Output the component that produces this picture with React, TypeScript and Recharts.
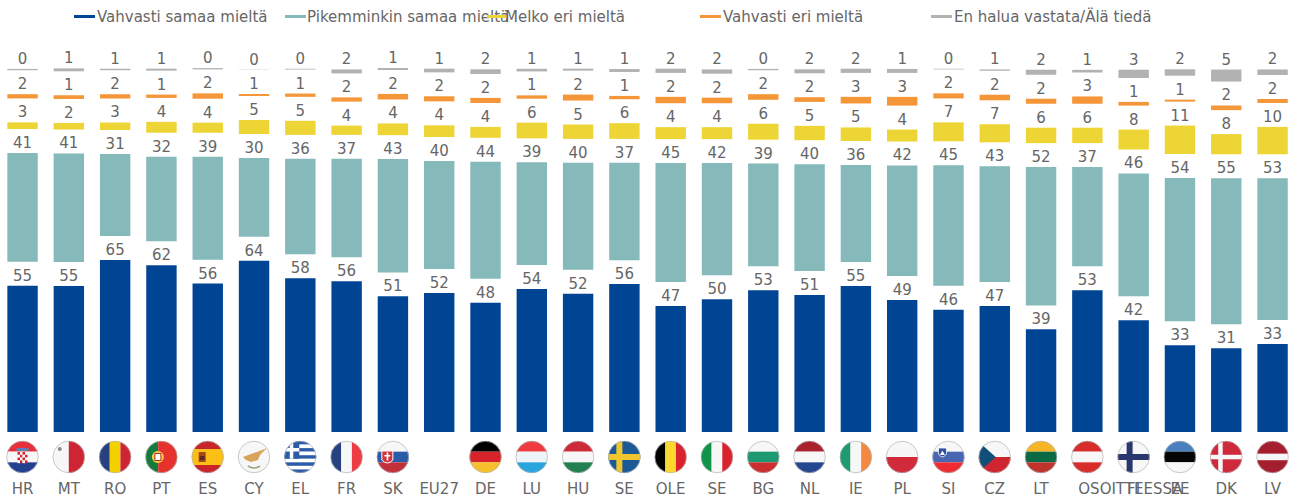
import React from "react";
import { BarChart, Bar, XAxis, YAxis, LabelList, Legend } from "recharts";

const codes = ["HR","MT","RO","PT","ES","CY","EL","FR","SK","EU27","DE","LU","HU","SE","OLE","SE","BG","NL","IE","PL","SI","CZ","LT","OSOITTEESSA","FI","EE","DK","LV"];
const flagKeys = ["HR","MT","RO","PT","ES","CY","EL","FR","SK","","DE","LU","HU","SE","BE","IT","BG","NL","IE","PL","SI","CZ","LT","AT","FI","EE","DK","LV"];

const strongAgree = [55,54.9,64.7,62.7,55.8,64.4,57.8,56.7,51,52.3,48.6,53.8,52,55.6,47.4,49.9,53.3,51.5,54.9,49.6,46,47.4,38.6,53.3,42,32.6,31.5,33.1];
const tendAgree = [40.9,40.8,30.8,31.8,38.7,29.6,35.9,37,42.6,40.6,44,38.6,40.2,36.6,44.7,42.2,38.6,40.2,36.5,41.6,45.3,43.5,52,37.3,46.2,53.9,54.9,53.3];
const tendDisagree = [2.5,2.5,2.9,4.1,3.8,5.3,5.3,3.5,4.4,4.4,4.1,5.9,5.4,5.9,4.5,4.5,6,5.4,5.1,4.5,7.1,6.8,5.8,5.8,7.5,10.7,7.6,10.3];
const strongDisagree = [1.6,1.4,1.6,1.25,2,0.75,1.25,1.6,2.1,1.9,1.9,1.25,2.25,1.25,2.4,2.1,2.1,1.75,2.5,3.3,1.9,2.1,1.9,2.75,1.4,0.75,1.75,1.5];
const noAnswer = [0.5,1.1,0.6,0.75,0.5,0.1,0.3,1.5,0.75,1.4,1.75,1,0.75,1.1,1.6,1.6,0.5,1.5,1.6,1.5,0.25,0.5,1.9,1,3.1,2.4,4.5,2.1];

const strongAgreeLabels = [55,55,65,62,56,64,58,56,51,52,48,54,52,56,47,50,53,51,55,49,46,47,39,53,42,33,31,33];
const tendAgreeLabels = [41,41,31,32,39,30,36,37,43,40,44,39,40,37,45,42,39,40,36,42,45,43,52,37,46,54,55,53];
const tendDisagreeLabels = [3,2,3,4,4,5,5,4,4,4,4,6,5,6,4,4,6,5,5,4,7,7,6,6,8,11,8,10];
const strongDisagreeLabels = [2,1,2,1,2,1,1,2,2,2,2,1,2,1,2,2,2,2,3,3,2,2,2,3,1,1,2,2];
const noAnswerLabels = [0,1,1,1,0,0,0,2,1,1,2,1,1,1,2,2,0,2,2,1,0,1,2,1,3,2,5,2];

const gapUnits = 9;

const rows = codes.map((code, i) => ({
  code,
  a: strongAgree[i], b: tendAgree[i], c: tendDisagree[i], d: strongDisagree[i], e: noAnswer[i],
  g1: gapUnits, g2: gapUnits, g3: gapUnits, g4: gapUnits,
  al: strongAgreeLabels[i], bl: tendAgreeLabels[i], cl: tendDisagreeLabels[i], dl: strongDisagreeLabels[i], el: noAnswerLabels[i],
}));

const TEXT = "#666666";
const FONT = "'DejaVu Sans', Verdana, sans-serif";
const NAVY = "#004494", TEAL = "#85B9BA", YELLOW = "#EED536", ORANGE = "#F59638", GREY = "#B2B2B2";

const legendItems = [
  { name: "Vahvasti samaa mieltä", color: NAVY, x: 74, textX: 97 },
  { name: "Pikemminkin samaa mieltä", color: TEAL, x: 285, textX: 307 },
  { name: "Melko eri mieltä", color: YELLOW, x: 487, textX: 505 },
  { name: "Vahvasti eri mieltä", color: ORANGE, x: 700, textX: 723 },
  { name: "En halua vastata/Älä tiedä", color: GREY, x: 931, textX: 954 },
];

const R = "#CE2434", W = "#F7F7F7", B = "#27407F";
const hStripes: Record<string, [string, number][]> = {
  HR: [["#E5303A",1],[W,1],["#23408F",1]],
  ES: [["#C8252B",1],["#FBBF16",2],["#C8252B",1]],
  SK: [[W,1],["#2A5BA8",1],["#C2303A",1]],
  DE: [["#000000",1],["#D8232A",1],["#F6C02C",1]],
  LU: [["#EF3B3F",1],["#EDF5FA",1],["#27A5DC",1]],
  HU: [["#CE2939",1],[W,1],["#20804F",1]],
  BG: [[W,1],["#1E9A72",1],["#CC2E30",1]],
  NL: [["#A9222D",1],[W,1],["#24478F",1]],
  PL: [[W,1],["#D02A3B",1]],
  SI: [[W,1],["#4A66B0",1],["#EE2B30",1]],
  LT: [["#F6B426",1],["#0A6A44",1],["#BE332C",1]],
  AT: [["#D82C2A",1],[W,1],["#D82C2A",1]],
  EE: [["#4A80BE",1],["#050505",1],[W,1]],
  LV: [["#A51E2E",2],[W,1],["#A51E2E",2]],
};
const vStripes: Record<string, [string, number][]> = {
  MT: [[W,1],[R,1]],
  RO: [[B,1],["#F5D000",1],[R,1]],
  PT: [["#157B3C",2],["#E5322D",3]],
  FR: [[B,1],[W,1],["#EE3B43",1]],
  BE: [["#000000",1],["#FBD92F",1],["#D8232E",1]],
  IT: [["#10944A",1],[W,1],["#D8232E",1]],
  IE: [["#1F9A6E",1],[W,1],["#F58840",1]],
};

function FlagDetail({ k }: { k: string }) {
  const rect = (x: number, y: number, w: number, h: number, f: string, key?: number) => <rect key={key} x={x} y={y} width={w} height={h} fill={f} />;
  switch (k) {
    case "HR": {
      const cells = [];
      for (let r = 0; r < 4; r++) for (let c = 0; c < 4; c++) cells.push(rect(-5 + c * 2.5, -5 + r * 2.8, 2.5, 2.8, (r + c) % 2 ? W : "#D8232A", r * 4 + c));
      return <g>{rect(-6,-9,12,3,"#5C7FB8")}{cells}</g>;
    }
    case "MT": return <circle cx={-9} cy={-8} r={2} fill="#8A8A8A" />;
    case "PT": return <g><circle cx={-3.5} cy={0} r={6} fill="#F2D13C" /><rect x={-6.5} y={-3.5} width={6} height={7} fill="#fff" stroke="#C8252B" strokeWidth={1} /></g>;
    case "ES": return <g><rect x={-9} y={-5} width={7} height={10} fill="#A5471F" /><rect x={-8} y={-1} width={5} height={4} fill="#5A2A20" /></g>;
    case "CY": return <g>
      <path d="M-11 0 L-3 -3 L3 -5 L13 -9 L6 -2 L4 3 L-3 5 L-8 3 Z" fill="#D9A45A" />
      <path d="M-6 9 Q0 13 6 9" fill="none" stroke="#8FA77A" strokeWidth={1.6} />
    </g>;
    case "EL": {
      const s = [];
      for (let i = 0; i < 9; i++) s.push(rect(-17, -16 + (i * 32) / 9, 34, 32 / 9, i % 2 ? "#fff" : "#2C5BA8", i));
      return <g>{s}{rect(-17,-16,16,17.7,"#2C5BA8")}{rect(-17,-9,16,3.5,"#fff")}{rect(-10.5,-16,3.5,17.7,"#fff")}</g>;
    }
    case "SK": return <g><path d="M-11 -6 H0 V3 Q-5.5 9 -11 3 Z" fill="#D0343C" stroke="#fff" strokeWidth={1} /><rect x={-6.2} y={-4.5} width={1.6} height={8} fill="#fff" /><rect x={-8.5} y={-2} width={6} height={1.5} fill="#fff" /></g>;
    case "SE": return <g>{rect(-17,-16,34,32,"#1B5A96")}{rect(-8,-16,6,32,"#F0C52E")}{rect(-17,-3,34,6,"#F0C52E")}</g>;
    case "SI": return <g><path d="M-10 -9 H-2 V-3 Q-6 3 -10 -3 Z" fill="#2C4E9E" stroke="#fff" strokeWidth={0.8} /><path d="M-8.5 -2 L-6 -6.5 L-3.5 -2 Z" fill="#fff" /></g>;
    case "CZ": return <g>{rect(-17,-16,34,16,W)}{rect(-17,0,34,16,"#CF2530")}<path d="M-17 -16 L1 0 L-17 16 Z" fill="#124F78" /></g>;
    case "FI": return <g>{rect(-17,-16,34,32,W)}{rect(-7,-16,6,32,"#29376F")}{rect(-17,-3,34,6,"#29376F")}</g>;
    case "DK": return <g>{rect(-17,-16,34,32,"#CF2A3C")}{rect(-8,-16,4.5,32,W)}{rect(-17,-2.2,34,4.5,W)}</g>;
    default: return null;
  }
}

function Flag({ k, cx, cy, id }: { k: string; cx: number; cy: number; id: string }) {
  if (!k) return null;
  const r = 16;
  let body: React.ReactNode = <rect x={-17} y={-17} width={34} height={34} fill={W} />;
  const hs = hStripes[k];
  const vs = vStripes[k];
  if (hs) {
    const tot = hs.reduce((s, x) => s + x[1], 0);
    let y = -16;
    body = hs.map(([f, w], i) => {
      const h = (32 * w) / tot;
      const el = <rect key={i} x={-17} y={y} width={34} height={h} fill={f} />;
      y += h;
      return el;
    });
  } else if (vs) {
    const tot = vs.reduce((s, x) => s + x[1], 0);
    let x = -16;
    body = vs.map(([f, w], i) => {
      const wd = (32 * w) / tot;
      const el = <rect key={i} x={x} y={-17} width={wd} height={34} fill={f} />;
      x += wd;
      return el;
    });
  }
  return (
    <g transform={`translate(${cx},${cy})`}>
      <clipPath id={id}><circle r={r} /></clipPath>
      <g clipPath={`url(#${id})`}>{body}<FlagDetail k={k} /></g>
      <circle r={r - 0.2} fill="none" stroke="#B5B5B5" strokeWidth={0.7} />
    </g>
  );
}

function CountryTick(props: any) {
  const { x, y, payload } = props;
  const i = payload.index;
  const long = payload.value.length > 4;
  return (
    <g>
      <Flag k={flagKeys[i]} cx={x} cy={y + 25} id={`flag-${i}`} />
      <text x={long ? x - 9 : x} y={y + 62} textAnchor={long ? "start" : "middle"} fontFamily={FONT} fontSize={15} fill={TEXT}>
        {payload.value}
      </text>
    </g>
  );
}

function LegendContent() {
  return (
    <div style={{ position: "relative", width: 1297, height: 0 }}>
      {legendItems.map((it) => (
        <React.Fragment key={it.name}>
          <div style={{ position: "absolute", left: it.x, top: 15, width: 21, height: 3, background: it.color }} />
          <div style={{ position: "absolute", left: it.textX, top: 8, fontFamily: FONT, fontSize: 15, lineHeight: "18px", color: TEXT, whiteSpace: "nowrap" }}>{it.name}</div>
        </React.Fragment>
      ))}
    </div>
  );
}

const labelStyle = { fontFamily: FONT, fontSize: 15, fill: TEXT };

export default function App() {
  const seg = (key: string, lab: string, color: string, name: string) => (
    <Bar key={key} dataKey={key} name={name} stackId="s" fill={color} barSize={30.4} isAnimationActive={false}>
      <LabelList dataKey={lab} position="top" offset={5} style={labelStyle} />
    </Bar>
  );
  const gap = (key: string) => (
    <Bar key={key} dataKey={key} stackId="s" fill="none" legendType="none" barSize={30.4} isAnimationActive={false} />
  );
  return (
    <div style={{ position: "absolute", left: -1, top: 0, width: 1298, height: 497, overflow: "hidden" }}>
      <BarChart width={1298} height={497} data={rows} margin={{ top: 59.6, right: 1.35, bottom: 0, left: 0.35 }} barCategoryGap={0}>
        <XAxis dataKey="code" interval={0} height={65} axisLine={false} tickLine={false} tickSize={0} tickMargin={0} tick={<CountryTick />} />
        <YAxis hide domain={[0, 140]} />
        <Legend content={<LegendContent />} wrapperStyle={{ left: 1, top: 0, width: 1297, height: 0 }} />
        {seg("a", "al", NAVY, legendItems[0].name)}
        {gap("g1")}
        {seg("b", "bl", TEAL, legendItems[1].name)}
        {gap("g2")}
        {seg("c", "cl", YELLOW, legendItems[2].name)}
        {gap("g3")}
        {seg("d", "dl", ORANGE, legendItems[3].name)}
        {gap("g4")}
        {seg("e", "el", GREY, legendItems[4].name)}
      </BarChart>
    </div>
  );
}
